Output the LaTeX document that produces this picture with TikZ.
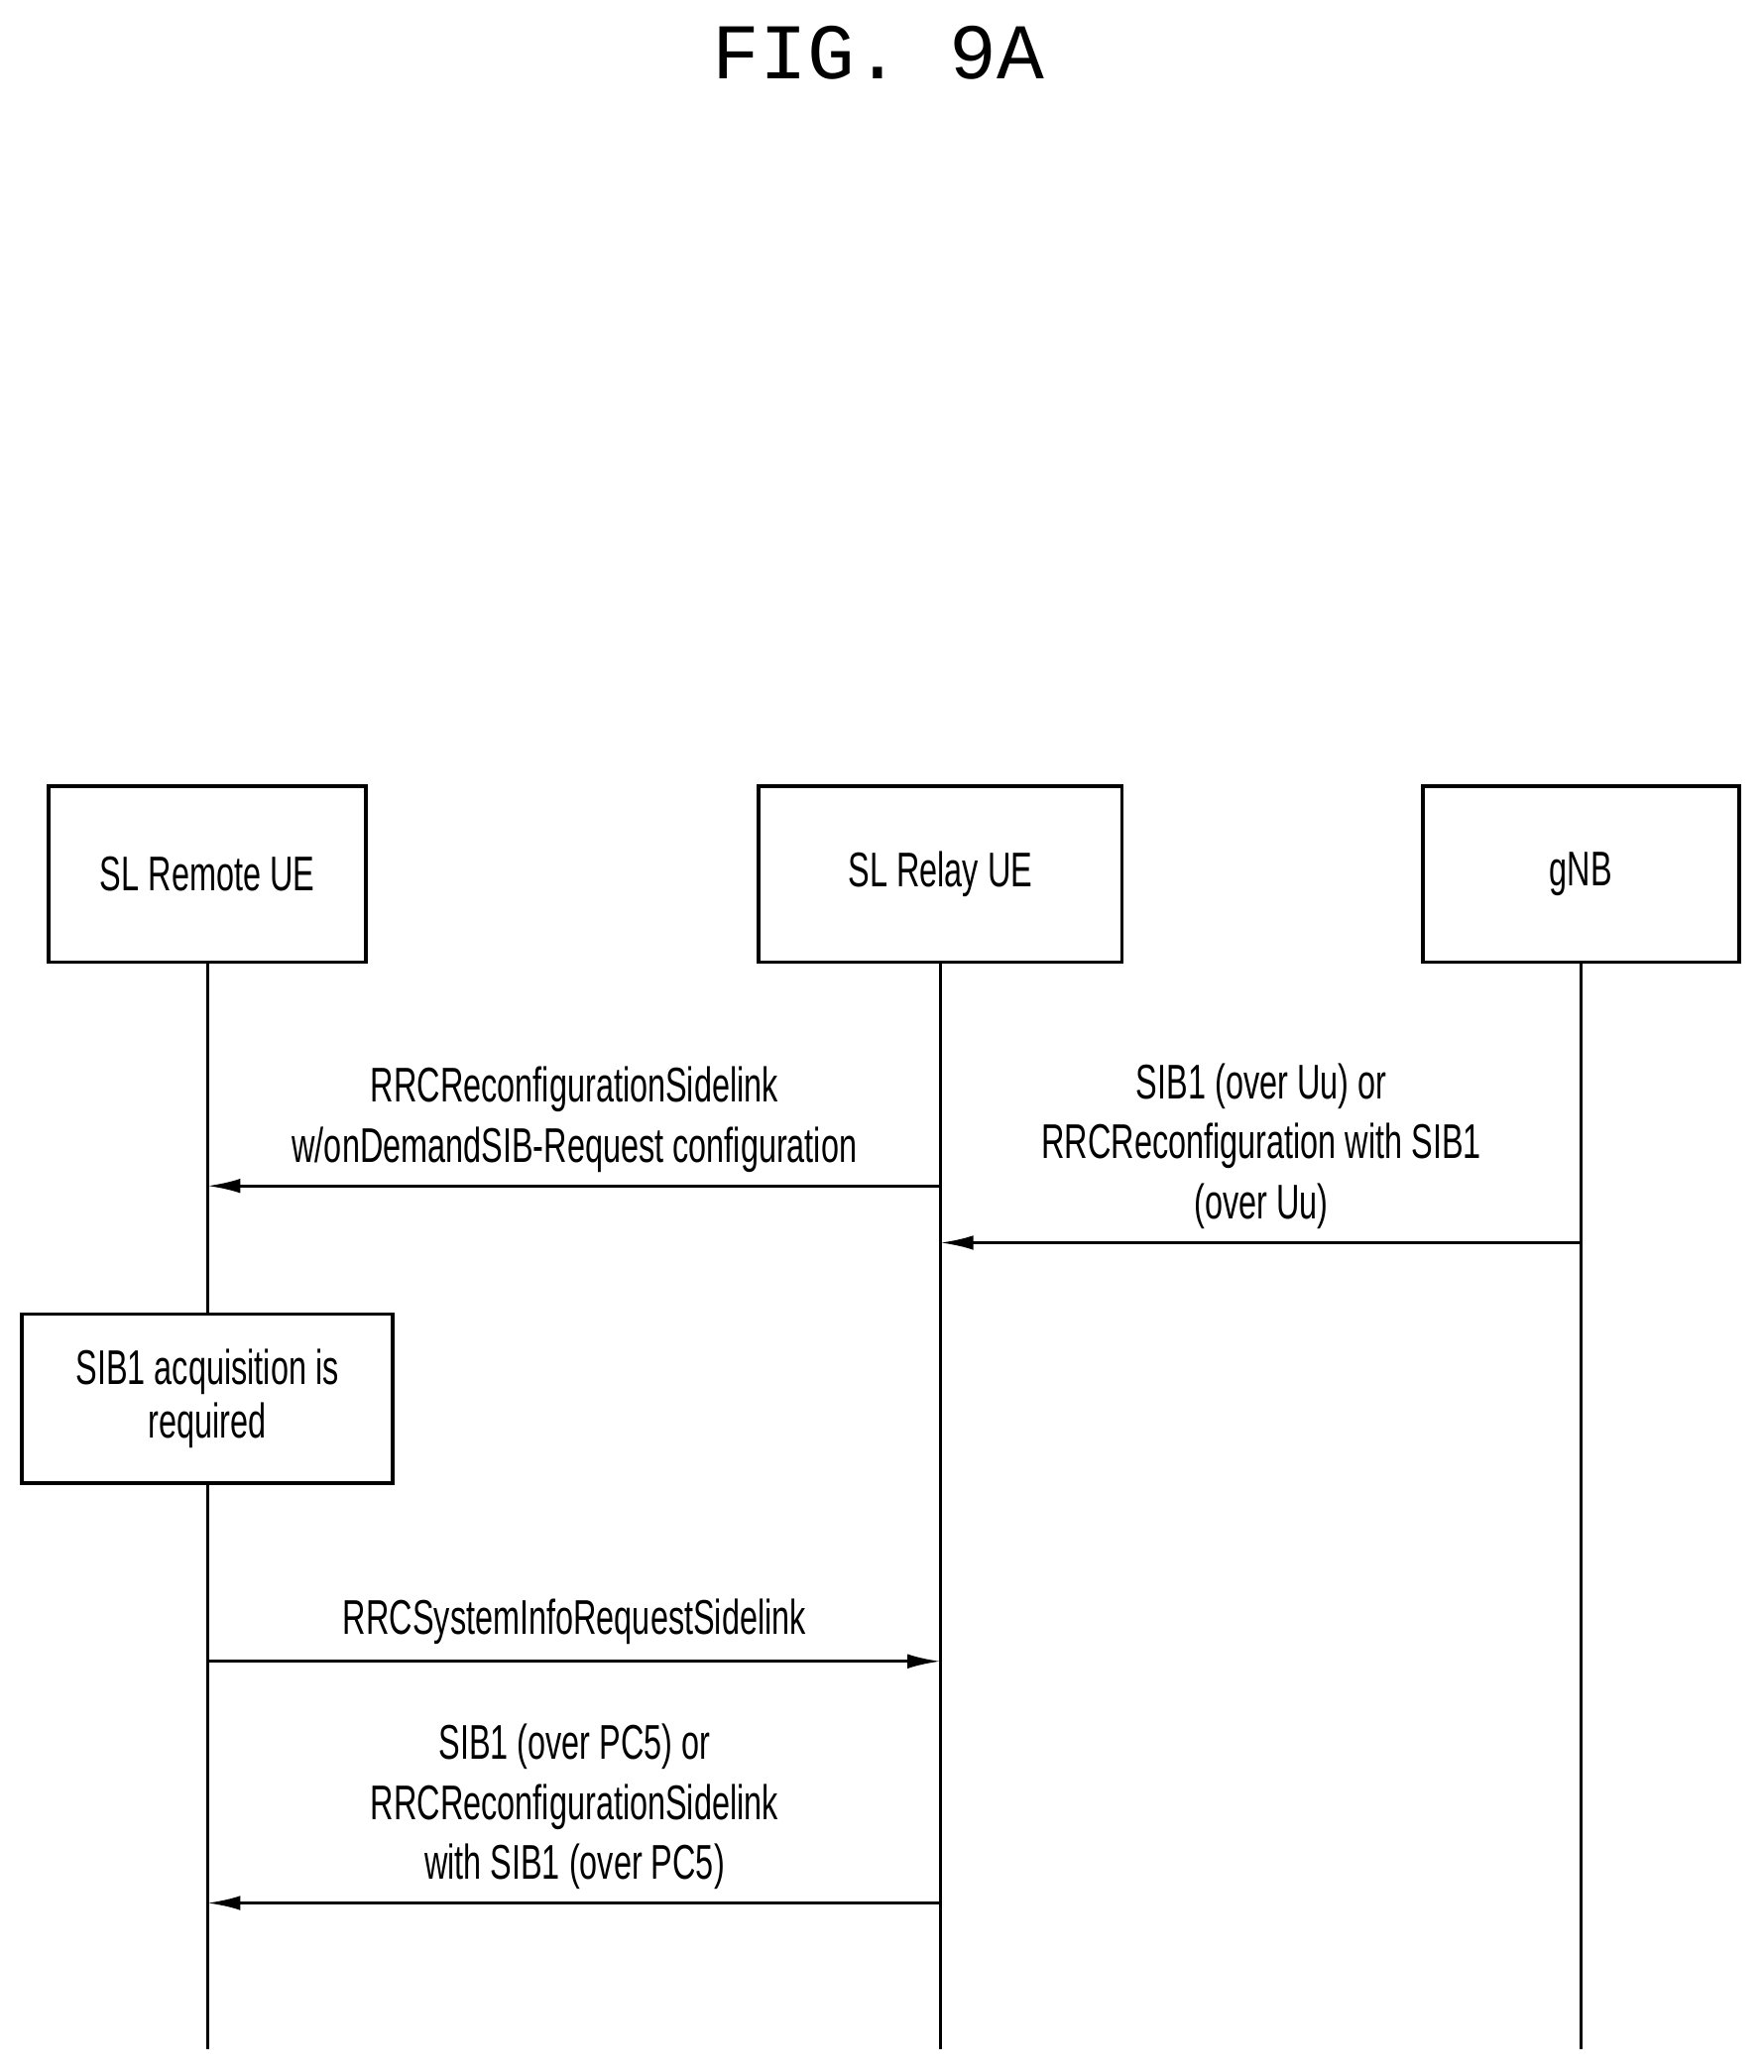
\documentclass[tikz,border=0pt]{standalone}
\usepackage{fontspec}
\setmainfont{Liberation Sans}[FakeStretch=0.66]
\newfontfamily\titlefont{Liberation Mono}
\usetikzlibrary{arrows.meta}
\tikzset{
  ent/.style={draw,line width=1.6pt,minimum width=4.8cm,minimum height=2.66cm,font=\fontsize{21}{25}\selectfont},
  msg/.style={-{Latex[length=0.5cm,width=0.22cm]},line width=1.3pt},
  life/.style={line width=1.3pt},
  lbl/.style={align=center,font=\fontsize{21}{26}\selectfont,inner sep=0pt}
}
\begin{document}
\begin{tikzpicture}[x=0.02cm,y=-0.02cm]
\useasboundingbox (0,0) rectangle (1335,1569);
\node[font=\titlefont\fontsize{34}{40}\selectfont] (T) at (665,40) {FIG. 9A};
\node[ent] (R) at (157,662) {SL Remote UE};
\node[ent,minimum width=5.5cm] (L) at (712,662) {SL Relay UE};
\node[ent] (G) at (1197,662) {gNB};
\node[ent,minimum width=5.62cm,minimum height=2.56cm,align=center] (S) at (157,1059) {SIB1 acquisition is\\[-2pt]required};
\coordinate (Re) at (157,1552);
\coordinate (Le) at (712,1552);
\coordinate (Ge) at (1197,1552);
\draw[life] (R) -- (S) (S) -- (Re);
\draw[life] (L) -- (Le);
\draw[life] (G) -- (Ge);
% messages
\coordinate (a1) at (712,898); \coordinate (b1) at (157,898);
\coordinate (a2) at (1197,941); \coordinate (b2) at (712,941);
\coordinate (a3) at (157,1258); \coordinate (b3) at (712,1258);
\coordinate (a4) at (712,1441); \coordinate (b4) at (157,1441);
\draw[msg] (a1) -- (b1);
\draw[msg] (a2) -- (b2);
\draw[msg] (a3) -- (b3);
\draw[msg] (a4) -- (b4);
\node[lbl] (m1) at (435,848) {RRCReconfigurationSidelink\\w/onDemandSIB-Request configuration};
\node[lbl] (m2) at (955,868) {SIB1 (over Uu) or\\RRCReconfiguration with SIB1\\(over Uu)};
\node[lbl] (m3) at (435,1228) {RRCSystemInfoRequestSidelink};
\node[lbl] (m4) at (435,1368) {SIB1 (over PC5) or\\RRCReconfigurationSidelink\\with SIB1 (over PC5)};
\end{tikzpicture}
\end{document}
